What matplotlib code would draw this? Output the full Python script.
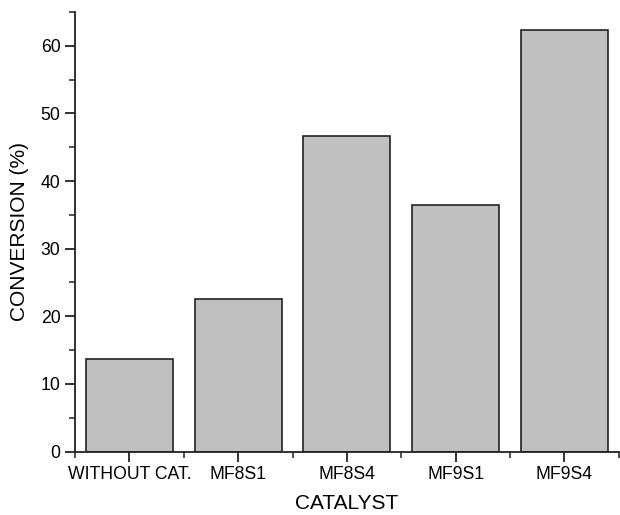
import matplotlib
matplotlib.use("Agg")
import matplotlib.pyplot as plt
import numpy as np
from matplotlib.ticker import MultipleLocator

catalysts = ["WITHOUT CAT.", "MF8S1", "MF8S4", "MF9S1", "MF9S4"]
conversion = [13.7, 22.5, 46.6, 36.4, 62.3]

plt.rcParams["font.family"] = ["Liberation Sans", "DejaVu Sans"]

fig = plt.figure(figsize=(6.2, 5.15), dpi=100)
ax = fig.add_axes([0.121, 0.123, 0.877, 0.854])

x = np.arange(len(catalysts))
ax.bar(x, conversion, width=0.8, color="#c0c0c0", edgecolor="#222222", linewidth=1.2)

ax.set_xlim(-0.5, len(catalysts) - 0.5)
ax.set_ylim(0, 65)
ax.set_xticks(x, labels=catalysts)
ax.xaxis.set_minor_locator(MultipleLocator(1, offset=0.5))
ax.yaxis.set_major_locator(MultipleLocator(10))
ax.yaxis.set_minor_locator(MultipleLocator(5))

for side in ["top", "right"]:
    ax.spines[side].set_visible(False)
for side in ["left", "bottom"]:
    ax.spines[side].set_linewidth(1.3)
    ax.spines[side].set_color("#222222")

ax.tick_params(which="major", direction="out", length=7, width=1.3, labelsize=12.7,
               color="#222222", labelcolor="black")
ax.tick_params(which="minor", direction="out", length=4, width=1.1, color="#222222")

ax.set_xlabel("CATALYST", fontsize=15, labelpad=8, color="black")
ax.set_ylabel("CONVERSION (%)", fontsize=15, labelpad=8, color="black")

fig.savefig("out.png", dpi=100)
